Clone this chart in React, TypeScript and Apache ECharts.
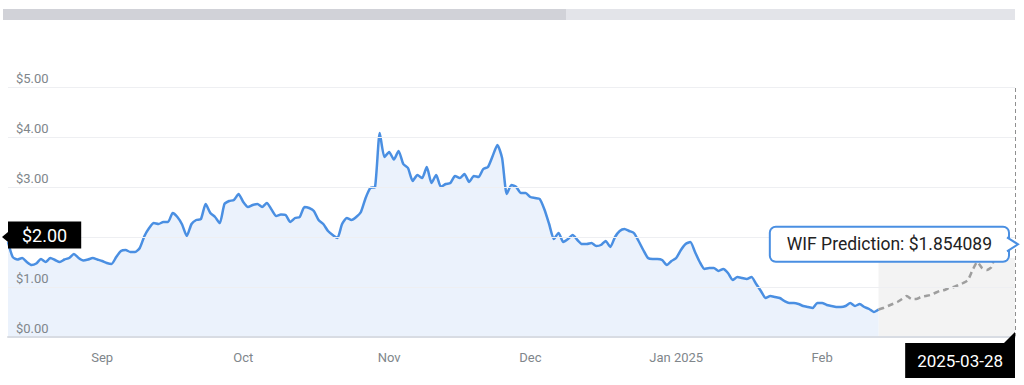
import React, { useEffect, useRef } from 'react';
import * as echarts from 'echarts';

// ---------- data ----------
const histStartUTC = [2024, 7, 12]; // 2024-08-12, daily history
const histValues = [
  1.90, 1.60, 1.55, 1.58, 1.50, 1.44, 1.47, 1.56, 1.50, 1.58,
  1.54, 1.50, 1.55, 1.58, 1.66, 1.58, 1.53, 1.55, 1.58, 1.55,
  1.52, 1.48, 1.46, 1.60, 1.72, 1.74, 1.70, 1.70, 1.78, 2.02,
  2.18, 2.28, 2.26, 2.30, 2.30, 2.48, 2.40, 2.25, 2.02, 2.26,
  2.34, 2.36, 2.66, 2.48, 2.40, 2.28, 2.66, 2.72, 2.74, 2.86,
  2.70, 2.60, 2.64, 2.66, 2.60, 2.68, 2.55, 2.42, 2.45, 2.44,
  2.30, 2.38, 2.40, 2.60, 2.58, 2.52, 2.34, 2.26, 2.12, 2.04,
  1.98, 2.26, 2.38, 2.34, 2.40, 2.50, 2.78, 2.98, 3.00, 4.08,
  3.60, 3.70, 3.55, 3.72, 3.46, 3.38, 3.12, 3.24, 3.18, 3.40,
  3.08, 3.24, 3.00, 3.06, 3.08, 3.22, 3.18, 3.26, 3.10, 3.22,
  3.20, 3.36, 3.40, 3.62, 3.84, 3.58, 2.86, 3.04, 3.00, 2.88,
  2.88, 2.80, 2.78, 2.76, 2.55, 2.26, 1.96, 2.08, 1.90, 1.96,
  2.04, 1.94, 1.86, 1.86, 1.88, 1.82, 1.84, 1.92, 1.80, 2.00,
  2.12, 2.16, 2.12, 2.08, 1.92, 1.74, 1.58, 1.56, 1.56, 1.54,
  1.44, 1.52, 1.58, 1.74, 1.86, 1.90, 1.70, 1.50, 1.36, 1.38,
  1.38, 1.32, 1.36, 1.28, 1.14, 1.20, 1.18, 1.16, 1.20, 1.06,
  0.92, 0.78, 0.82, 0.80, 0.78, 0.72, 0.68, 0.68, 0.66, 0.62,
  0.60, 0.58, 0.68, 0.68, 0.64, 0.62, 0.60, 0.60, 0.62, 0.68,
  0.62, 0.66, 0.60, 0.56, 0.50, 0.55,
];
const predDates = [
  '2025-02-14', '2025-02-16', '2025-02-17', '2025-02-19', '2025-02-20',
  '2025-02-22', '2025-02-23', '2025-02-25', '2025-02-26', '2025-02-28',
  '2025-03-01', '2025-03-03', '2025-03-04', '2025-03-06', '2025-03-07',
  '2025-03-09', '2025-03-10', '2025-03-12', '2025-03-13', '2025-03-15',
  '2025-03-16', '2025-03-18', '2025-03-19', '2025-03-21', '2025-03-22',
  '2025-03-24', '2025-03-25', '2025-03-27', '2025-03-28',
];
const predValues = [
  0.58, 0.62, 0.66, 0.70, 0.76, 0.82, 0.76, 0.76, 0.80, 0.82,
  0.84, 0.88, 0.92, 0.94, 0.98, 1.00, 1.04, 1.08, 1.14, 1.34,
  1.50, 1.38, 1.34, 1.40, 1.70, 1.84, 1.90, 1.82, 1.854089,
];
const monthTickDates = ['2024-09-01', '2024-10-01', '2024-11-01', '2024-12-01', '2025-01-01', '2025-02-01'];
const monthTickLabels = ['Sep', 'Oct', 'Nov', 'Dec', 'Jan 2025', 'Feb'];
const yMin = 0;
const yMax = 5;
const yStep = 1;
const pointerPrice = 2.0;
const predictionName = 'WIF Prediction';
const shadeTopValue = 1.58;

function buildHistDates(): string[] {
  const out: string[] = [];
  const start = Date.UTC(histStartUTC[0], histStartUTC[1], histStartUTC[2]);
  for (let i = 0; i < histValues.length; i++) {
    out.push(new Date(start + i * 86400000).toISOString().slice(0, 10));
  }
  return out;
}

const FONT = 'Roboto, "Noto Sans", sans-serif';
const BLUE = '#4a8fe2';

export default function App() {
  const ref = useRef<HTMLDivElement>(null);

  useEffect(() => {
    if (!ref.current) return;
    const chart = echarts.init(ref.current, undefined, { renderer: 'svg' });

    const categories = [...buildHistDates(), ...predDates];
    const lastIdx = categories.length - 1;
    const joinIdx = histValues.length - 1;
    const predSeries = categories.map((_, i) =>
      i < joinIdx ? null : i === joinIdx ? histValues[joinIdx] : predValues[i - joinIdx - 1]
    );
    const lastPred = predValues[predValues.length - 1];

    chart.setOption({
      animation: false,
      textStyle: { fontFamily: FONT },
      grid: { left: 8, right: 9, top: 87, bottom: 48, containLabel: false },
      xAxis: {
        type: 'category',
        data: categories,
        boundaryGap: false,
        z: 10,
        axisLine: { lineStyle: { color: '#d8dce3', width: 2 } },
        axisTick: { show: false },
        splitLine: { show: false },
        axisLabel: {
          interval: (_i: number, v: string) => monthTickDates.includes(v),
          formatter: (v: string) => {
            const k = monthTickDates.indexOf(v);
            return k >= 0 ? monthTickLabels[k] : '';
          },
          color: '#80868b',
          fontSize: 13,
          margin: 14,
          fontFamily: FONT,
        },
      },
      yAxis: {
        type: 'value',
        min: yMin,
        max: yMax,
        interval: yStep,
        z: 10,
        axisLine: { show: false },
        axisTick: { show: false },
        axisLabel: {
          inside: true,
          margin: 8,
          verticalAlign: 'bottom',
          padding: [0, 0, 2, 0],
          color: '#80868b',
          fontSize: 13,
          fontFamily: FONT,
          // the tick at the pointer price sits under the pointer's own label
          formatter: (v: number) => (v === pointerPrice ? '' : '$' + v.toFixed(2)),
        },
        splitLine: { lineStyle: { color: '#eeeff2', width: 1 } },
      },
      series: [
        {
          type: 'line',
          data: histValues,
          symbol: 'none',
          smooth: 0.2,
          lineStyle: { color: BLUE, width: 2.5 },
          areaStyle: { color: '#ebf2fc', opacity: 1 },
          z: 3,
        },
        {
          type: 'line',
          data: predSeries,
          symbol: 'none',
          smooth: 0.2,
          lineStyle: { color: '#9e9e9e', width: 2.5, type: [6, 4] },
          z: 3,
          markArea: {
            silent: true,
            itemStyle: { color: '#f3f3f3' },
            data: [[
              { xAxis: categories[joinIdx], yAxis: yMin },
              { xAxis: categories[lastIdx], yAxis: shadeTopValue },
            ]],
          },
          markLine: {
            silent: true,
            symbol: 'none',
            label: { show: false },
            lineStyle: { color: '#8f8f8f', type: [4, 3], width: 1 },
            data: [{ yAxis: pointerPrice }, { xAxis: categories[lastIdx] }],
          },
        },
      ],
    });

    const [gx, gy] = chart.convertToPixel({ gridIndex: 0 }, [0, pointerPrice]) as number[];
    const [px, py] = chart.convertToPixel({ gridIndex: 0 }, [lastIdx, lastPred]) as number[];
    const axisY = (chart.convertToPixel({ gridIndex: 0 }, [lastIdx, yMin]) as number[])[1];

    chart.setOption({
      graphic: [
        // top scroll bar
        { type: 'rect', z: 100, shape: { x: 3, y: 9, width: 1012, height: 11 }, style: { fill: '#e3e4e9' }, silent: true },
        { type: 'rect', z: 101, shape: { x: 3, y: 9, width: 563, height: 11 }, style: { fill: '#d1d2d8' }, silent: true },
        // y pointer label
        {
          type: 'polygon',
          z: 100,
          shape: { points: [[gx - 6, gy], [gx, gy - 5], [gx, gy + 5]] },
          style: { fill: '#000' },
          silent: true,
        },
        {
          type: 'text',
          z: 100,
          x: gx,
          y: gy - 2,
          silent: true,
          style: {
            text: '$' + pointerPrice.toFixed(2),
            fill: '#fff',
            fontSize: 18,
            fontFamily: FONT,
            lineHeight: 19,
            align: 'left',
            verticalAlign: 'middle',
            backgroundColor: '#000',
            padding: [4, 14, 4, 14],
          },
        },
        // x pointer label
        {
          type: 'polygon',
          z: 100,
          shape: { points: [[px - 11, axisY + 6], [px, axisY + 6], [px, axisY - 5]] },
          style: { fill: '#000' },
          silent: true,
        },
        {
          type: 'text',
          z: 100,
          x: px,
          y: axisY + 6,
          silent: true,
          style: {
            text: categories[lastIdx],
            fill: '#fff',
            fontSize: 17,
            fontFamily: FONT,
            lineHeight: 19,
            align: 'right',
            verticalAlign: 'top',
            backgroundColor: '#000',
            padding: [8, 12, 8, 12],
          },
        },
        // tooltip
        {
          type: 'text',
          x: px - 7,
          y: py,
          silent: true,
          z: 110,
          style: {
            text: `${predictionName}: $${lastPred}`,
            fill: '#222',
            fontSize: 17.5,
            fontFamily: FONT,
            lineHeight: 17,
            align: 'right',
            verticalAlign: 'middle',
            backgroundColor: '#fff',
            borderColor: BLUE,
            borderWidth: 2,
            borderRadius: 5,
            padding: [8, 16, 8, 16],
          },
        },
        {
          type: 'polygon',
          z: 111,
          shape: { points: [[px - 9, py - 7], [px + 3, py], [px - 9, py + 7]] },
          style: { fill: '#fff' },
          silent: true,
        },
        {
          type: 'polyline',
          z: 112,
          shape: { points: [[px - 8, py - 7], [px + 3, py], [px - 8, py + 7]] },
          style: { stroke: BLUE, lineWidth: 2, fill: 'none' },
          silent: true,
        },
      ],
    });

    return () => chart.dispose();
  }, []);

  return (
    <div
      ref={ref}
      style={{ position: 'fixed', left: 0, top: 0, width: 1024, height: 385, background: '#fff' }}
    />
  );
}
